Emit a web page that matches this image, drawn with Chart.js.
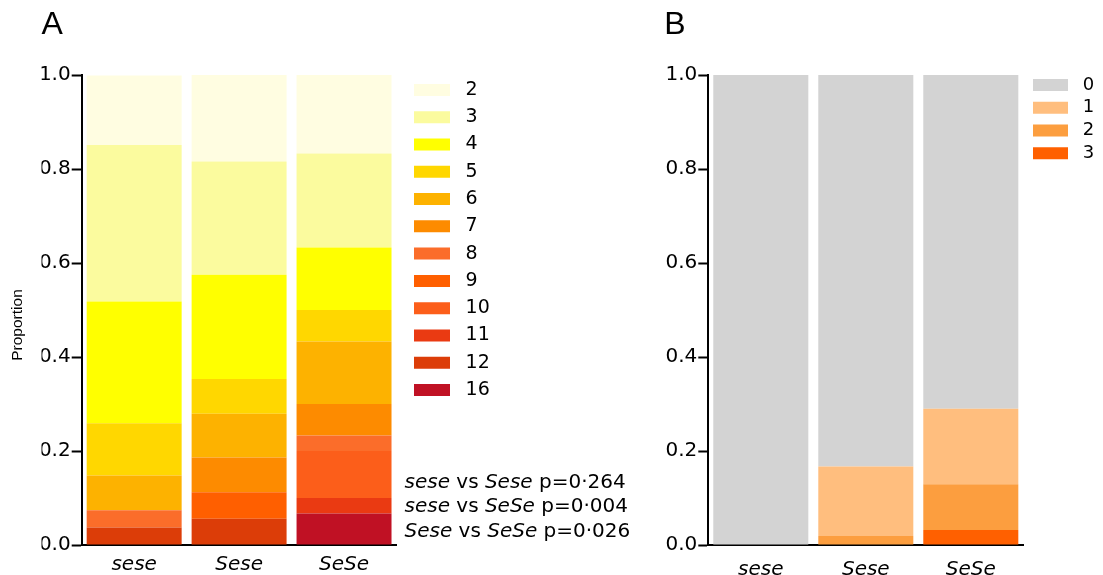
<!DOCTYPE html>
<html>
<head>
<meta charset="utf-8">
<title>Proportions by secretor genotype</title>
<script src="https://cdn.jsdelivr.net/npm/chart.js@4.4.1/dist/chart.umd.min.js"></script>
<style>
  html, body { margin: 0; padding: 0; background: #fff; }
  #wrap { position: relative; width: 1103px; height: 575px; }
  canvas { position: absolute; top: 0; }
  #chart-a { left: 0; }
  #chart-b { left: 640px; }
</style>
</head>
<body>
<div id="wrap">
  <canvas id="chart-a" width="640" height="575"></canvas>
  <canvas id="chart-b" width="463" height="575"></canvas>
</div>
<script>
var genotypes = ['sese', 'Sese', 'SeSe'];
var yTickLabels = ['0.0', '0.2', '0.4', '0.6', '0.8', '1.0'];

// panel A, listed top of the stack first (same as the legend)
var labelsA = ['2', '3', '4', '5', '6', '7', '8', '9', '10', '11', '12', '16'];
var colorsA = ['#FFFDE1', '#FBFB9E', '#FFFF00', '#FFD700', '#FDB200', '#FD8B00',
               '#FB6D2A', '#FF5F00', '#FC5E1A', '#EA3A12', '#DC3D08', '#C01124'];
var a2  = [0.148, 0.185, 0.167];
var a3  = [0.333, 0.241, 0.200];
var a4  = [0.259, 0.222, 0.133];
var a5  = [0.111, 0.074, 0.067];
var a6  = [0.074, 0.093, 0.133];
var a7  = [0.000, 0.074, 0.067];
var a8  = [0.037, 0.000, 0.033];
var a9  = [0.000, 0.056, 0.000];
var a10 = [0.000, 0.000, 0.100];
var a11 = [0.000, 0.000, 0.033];
var a12 = [0.037, 0.056, 0.000];
var a16 = [0.000, 0.000, 0.067];
var seriesA = [a2, a3, a4, a5, a6, a7, a8, a9, a10, a11, a12, a16];

// panel B
var labelsB = ['0', '1', '2', '3'];
var colorsB = ['#D3D3D3', '#FFBE7E', '#FC9E3F', '#FF6000'];
var b0 = [1.000, 0.833, 0.710];
var b1 = [0.000, 0.148, 0.161];
var b2 = [0.000, 0.019, 0.097];
var b3 = [0.000, 0.000, 0.032];
var seriesB = [b0, b1, b2, b3];

var comparisons = [['sese', 'Sese'], ['sese', 'SeSe'], ['Sese', 'SeSe']];
var pValues = ['0\u00b7264', '0\u00b7004', '0\u00b7026'];

Chart.defaults.font.family = '"DejaVu Sans", sans-serif';
Chart.defaults.color = '#000';

function stackSets(labels, colors, series) {
  var sets = labels.map(function(lab, i) {
    return {
      label: lab,
      data: series[i],
      backgroundColor: colors[i],
      borderWidth: 0,
      barPercentage: 0.905,
      categoryPercentage: 1.0,
      yAxisID: 'y'
    };
  });
  // first dataset sits at the bottom of the stack
  return sets.reverse();
}

function spacedLabels(chart) {
  return Chart.defaults.plugins.legend.labels.generateLabels(chart).map(function(item) {
    item.text = ' ' + item.text;
    return item;
  });
}

function makeOptions(o) {
  return {
    responsive: false,
    animation: false,
    devicePixelRatio: 1,
    layout: { padding: { left: o.padLeft, right: o.padRight, top: 0, bottom: 0 } },
    plugins: {
      title: {
        display: true,
        text: o.title,
        align: 'start',
        color: '#000',
        font: { family: '"Liberation Sans", Arial, sans-serif', size: 32, weight: 'normal' },
        padding: { top: 6.2, bottom: 30.4 }
      },
      legend: {
        position: 'right',
        align: 'start',
        reverse: true,
        maxWidth: o.legendWidth,
        title: { display: true, text: '', font: { size: 10 }, padding: { top: o.legendTop, bottom: 0 } },
        labels: {
          boxWidth: o.boxWidth,
          boxHeight: 12,
          padding: o.legendGap,
          color: '#000',
          font: { size: o.legendFont },
          generateLabels: spacedLabels
        }
      },
      tooltip: { enabled: false }
    },
    scales: {
      x: {
        stacked: true,
        z: 1,
        grid: { display: false, drawTicks: false },
        border: { display: true, color: '#000', width: 2 },
        ticks: { color: '#000', padding: o.xPad, font: { size: 20, style: 'italic' } },
        afterFit: function(s) { s.height = 30; }
      },
      y: {
        stacked: true,
        min: 0,
        max: 1,
        z: 1,
        grid: { drawOnChartArea: false, drawTicks: true, tickLength: 10, tickWidth: 2, tickColor: '#000' },
        border: { display: true, color: '#000', width: 2 },
        ticks: {
          stepSize: 0.2,
          padding: 1,
          color: '#000',
          font: { size: 20 },
          callback: function(v, i) { return yTickLabels[i]; }
        },
        afterFit: function(s) { s.width = o.yWidth; }
      },
      // empty axis that only keeps the legend clear of the bars
      gap: {
        type: 'linear',
        position: 'right',
        grid: { display: false, drawTicks: false },
        border: { display: false },
        ticks: { display: false },
        afterFit: function(s) { s.width = o.gap; }
      }
    }
  };
}

var yTitle = {
  id: 'yTitle',
  afterDraw: function(chart) {
    var ctx = chart.ctx;
    ctx.save();
    ctx.translate(18, (chart.chartArea.top + chart.height) / 2);
    ctx.rotate(-Math.PI / 2);
    ctx.font = '15.5px "Liberation Sans", Arial, sans-serif';
    ctx.fillStyle = '#000';
    ctx.textAlign = 'center';
    ctx.textBaseline = 'middle';
    ctx.fillText('Proportion', 0, 0);
    ctx.restore();
  }
};

var statsText = {
  id: 'statsText',
  afterDraw: function(chart) {
    var ctx = chart.ctx;
    var x0 = chart.chartArea.right + 8;
    var y0 = chart.chartArea.bottom - 57.5;
    ctx.save();
    ctx.fillStyle = '#000';
    ctx.textAlign = 'left';
    ctx.textBaseline = 'alphabetic';
    comparisons.forEach(function(pair, i) {
      var parts = [[pair[0], true], [' vs ', false], [pair[1], true], [' p=' + pValues[i], false]];
      var x = x0;
      parts.forEach(function(p) {
        ctx.font = (p[1] ? 'italic ' : '') + '20px "DejaVu Sans"';
        ctx.fillText(p[0], x, y0 + i * 24.5);
        x += ctx.measureText(p[0]).width;
      });
    });
    ctx.restore();
  }
};

var chartA = new Chart(document.getElementById('chart-a'), {
  type: 'bar',
  data: { labels: genotypes, datasets: stackSets(labelsA, colorsA, seriesA) },
  options: makeOptions({
    title: 'A', padLeft: 41.5, padRight: 144.27, yWidth: 40.2, gap: 9.23,
    legendWidth: 90, legendTop: 60.23, legendGap: 8.27, legendFont: 19, boxWidth: 36, xPad: 8
  }),
  plugins: [yTitle, statsText]
});

var chartB = new Chart(document.getElementById('chart-b'), {
  type: 'bar',
  data: { labels: genotypes, datasets: stackSets(labelsB, colorsB, seriesB) },
  options: makeOptions({
    title: 'B', padLeft: 24.3, padRight: 4.77, yWidth: 44, gap: 4.93,
    legendWidth: 70, legendTop: 59.23, legendGap: 4.77, legendFont: 18, boxWidth: 35, xPad: 13
  })
});
</script>
</body>
</html>
